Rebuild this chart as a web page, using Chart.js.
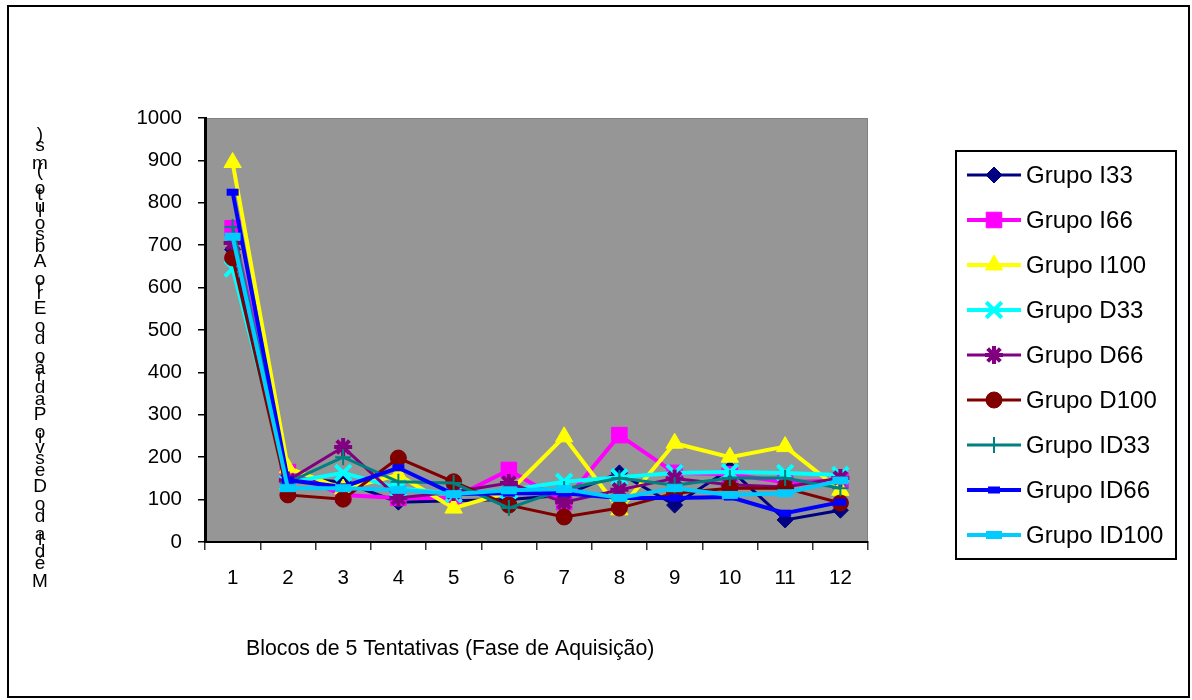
<html>
<head>
    <script src="https://cdn.jsdelivr.net/npm/chart.js"></script>
    <style>
        body { margin: 0; background: white; }
        canvas { display: block; }
    </style>
</head>
<body>
    <canvas id="chart" width="1192" height="700"></canvas>

    <script>
        // blocos de 5 tentativas
        const blocos = ['1', '2', '3', '4', '5', '6', '7', '8', '9', '10', '11', '12'];
        const yTicks = [0, 100, 200, 300, 400, 500, 600, 700, 800, 900, 1000];

        const grupoI33   = [690, 150, 142, 94, 97, 100, 110, 163, 87, 172, 52, 75];
        const grupoI66   = [740, 165, 111, 104, 104, 170, 94, 252, 163, 160, 141, 145];
        const grupoI100  = [895, 175, 125, 158, 80, 118, 248, 76, 233, 200, 225, 122];
        const grupoD33   = [645, 140, 163, 127, 113, 122, 142, 153, 163, 165, 163, 158];
        const grupoD66   = [705, 145, 224, 104, 118, 139, 94, 123, 150, 135, 130, 151];
        const grupoD100  = [670, 111, 101, 198, 142, 87, 59, 80, 115, 127, 127, 92];
        const grupoID33  = [743, 140, 200, 142, 139, 80, 125, 151, 134, 151, 151, 127];
        const grupoID66  = [825, 146, 130, 175, 113, 115, 115, 104, 104, 106, 68, 94];
        const grupoID100 = [720, 127, 127, 123, 113, 122, 125, 104, 127, 111, 115, 145];

        const tituloX = 'Blocos de 5 Tentativas (Fase de Aquisição)';
        const tituloY = 'Média do Desvio Padrão do Erro Absoluto (ms)';

        const FONTE = '"Liberation Sans", Arial, sans-serif';

        function serie(label, data, cor, estilo, raio, largura, bordaPonto) {
            return {
                label: label,
                data: data,
                borderColor: cor,
                backgroundColor: cor,
                borderWidth: largura,
                pointStyle: estilo,
                pointRadius: raio,
                pointHoverRadius: raio,
                pointBackgroundColor: cor,
                pointBorderColor: cor,
                pointBorderWidth: bordaPonto,
                tension: 0
            };
        }

        const datasets = [
            serie('Grupo I33', grupoI33, '#000080', 'rectRot', 8, 3, 1),
            serie('Grupo I66', grupoI66, '#FF00FF', 'rect', 11, 4, 1),
            serie('Grupo I100', grupoI100, '#FFFF00', 'triangle', 10, 4, 1),
            serie('Grupo D33', grupoD33, '#00FFFF', 'crossRot', 11, 4, 4),
            serie('Grupo D66', grupoD66, '#800080', 'star', 9, 3, 4),
            serie('Grupo D100', grupoD100, '#800000', 'circle', 8, 3, 1),
            serie('Grupo ID33', grupoID33, '#008080', 'cross', 8, 3, 2),
            serie('Grupo ID66', grupoID66, '#0000FF', 'line', 6, 4, 7),
            serie('Grupo ID100', grupoID100, '#00CCFF', 'line', 8, 4, 8)
        ];
        // a última série fica por cima
        datasets.forEach((d, i) => { d.order = datasets.length - i; });

        const moldura = {
            id: 'moldura',
            beforeDraw(chart) {
                const ctx = chart.ctx;
                const a = chart.chartArea;
                ctx.save();
                ctx.fillStyle = '#ffffff';
                ctx.fillRect(0, 0, chart.width, chart.height);
                ctx.strokeStyle = '#000';
                ctx.lineWidth = 2;
                ctx.strokeRect(8, 6, 1181, 691);
                // fundo cinza da área de plotagem
                ctx.fillStyle = '#969696';
                ctx.fillRect(a.left, a.top, a.right - a.left, a.bottom - a.top);
                ctx.strokeStyle = '#808080';
                ctx.lineWidth = 1;
                ctx.beginPath();
                ctx.moveTo(a.left, a.top + 0.5);
                ctx.lineTo(a.right - 0.5, a.top + 0.5);
                ctx.lineTo(a.right - 0.5, a.bottom);
                ctx.stroke();
                ctx.restore();
            },
            afterDraw(chart) {
                const ctx = chart.ctx;
                ctx.save();
                ctx.fillStyle = '#000';

                // título do eixo X
                ctx.font = '21.3px ' + FONTE;
                ctx.textAlign = 'left';
                ctx.textBaseline = 'middle';
                ctx.fillText(tituloX, 246, 649);

                // título do eixo Y, letra a letra de baixo para cima
                ctx.textAlign = 'center';
                let y = 582;
                for (const ch of tituloY) {
                    ctx.font = '19px ' + FONTE;
                    ctx.fillText(ch, 40, y);
                    ctx.font = '21.7px ' + FONTE;
                    y -= ctx.measureText(ch).width;
                }

                // legenda
                const lx = 956, ly = 151, lw = 220, lh = 408;
                ctx.fillStyle = '#fff';
                ctx.fillRect(lx, ly, lw, lh);
                ctx.strokeStyle = '#000';
                ctx.lineWidth = 2;
                ctx.strokeRect(lx, ly, lw, lh);
                chart.data.datasets.forEach((d, i) => {
                    const cy = 175 + i * 45;
                    ctx.strokeStyle = d.borderColor;
                    ctx.lineWidth = d.borderWidth;
                    ctx.beginPath();
                    ctx.moveTo(967, cy);
                    ctx.lineTo(1021, cy);
                    ctx.stroke();
                    ctx.fillStyle = d.pointBackgroundColor;
                    ctx.strokeStyle = d.pointBorderColor;
                    ctx.lineWidth = d.pointBorderWidth;
                    Chart.helpers.drawPoint(ctx, {
                        pointStyle: d.pointStyle,
                        radius: d.pointRadius,
                        rotation: 0,
                        borderWidth: d.pointBorderWidth
                    }, 994, cy);
                    ctx.fillStyle = '#000';
                    ctx.font = '24px ' + FONTE;
                    ctx.textAlign = 'left';
                    ctx.textBaseline = 'middle';
                    ctx.fillText(d.label, 1026, cy + 1);
                });
                ctx.restore();
            }
        };

        const ctx = document.getElementById('chart').getContext('2d');
        new Chart(ctx, {
            type: 'line',
            data: { labels: blocos, datasets: datasets },
            options: {
                responsive: false,
                animation: false,
                devicePixelRatio: 1,
                layout: { padding: { left: 0, top: 118, right: 324, bottom: 0 } },
                plugins: {
                    legend: { display: false },
                    tooltip: { enabled: false }
                },
                scales: {
                    x: {
                        offset: true,
                        grid: {
                            offset: true,
                            drawOnChartArea: false,
                            drawTicks: true,
                            tickLength: 8,
                            color: '#333',
                            lineWidth: 1.5
                        },
                        border: { color: '#000', width: 2 },
                        ticks: {
                            color: '#000',
                            font: { family: FONTE, size: 20.5 },
                            padding: 16,
                            maxRotation: 0
                        },
                        afterFit(scale) { scale.height = 158; }
                    },
                    y: {
                        min: yTicks[0],
                        max: yTicks[yTicks.length - 1],
                        afterBuildTicks(scale) {
                            scale.ticks = yTicks.map(v => ({ value: v }));
                        },
                        grid: {
                            drawOnChartArea: false,
                            drawTicks: true,
                            tickLength: 7,
                            color: '#000',
                            lineWidth: 1.5
                        },
                        border: { color: '#000', width: 3 },
                        ticks: {
                            color: '#000',
                            font: { family: FONTE, size: 20.5 },
                            padding: 16,
                            callback: v => String(v)
                        },
                        afterFit(scale) { scale.width = 205; }
                    }
                }
            },
            plugins: [moldura]
        });
    </script>
</body>
</html>
